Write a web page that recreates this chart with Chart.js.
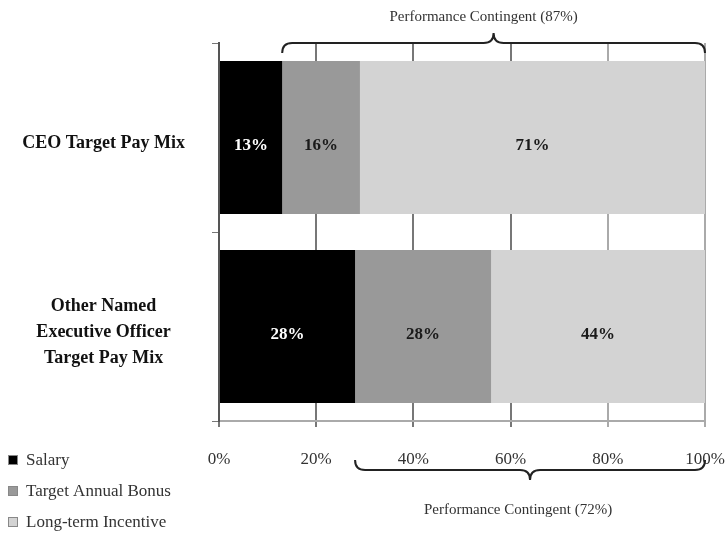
<!DOCTYPE html>
<html>
<head>
<meta charset="utf-8">
<script src="https://cdn.jsdelivr.net/npm/chart.js@4.4.1/dist/chart.umd.min.js"></script>
<style>
  body { margin: 0; background: #fff; }
  canvas { display: block; }
</style>
</head>
<body>
<canvas id="pay-mix" width="725" height="533"></canvas>
<script>
const CATEGORIES = [
  ['CEO Target Pay Mix'],
  ['Other Named', 'Executive Officer', 'Target Pay Mix']
];
const SERIES_NAMES = ['Salary', 'Target Annual Bonus', 'Long-term Incentive'];
const SALARY = [13, 28];
const ANNUAL_BONUS = [16, 28];
const LONG_TERM = [71, 44];
const X_MIN = 0;
const X_MAX = 100;
const X_STEP = 20;

const SERIF = '"Liberation Serif", "Times New Roman", serif';
const COLORS = ['#000000', '#999999', '#d3d3d3'];
const LABEL_COLORS = ['#ffffff', '#1a1a1a', '#1a1a1a'];

// curly brace along a horizontal line; dir = -1 points up, 1 points down
function drawBrace(ctx, x1, x2, y, dir) {
  const r = 10;
  const mid = (x1 + x2) / 2;
  ctx.beginPath();
  ctx.moveTo(x1, y - dir * r);
  ctx.quadraticCurveTo(x1, y, x1 + r, y);
  ctx.lineTo(mid - r, y);
  ctx.quadraticCurveTo(mid, y, mid, y + dir * r);
  ctx.quadraticCurveTo(mid, y, mid + r, y);
  ctx.lineTo(x2 - r, y);
  ctx.quadraticCurveTo(x2, y, x2, y - dir * r);
  ctx.stroke();
}

const extrasPlugin = {
  id: 'payMixExtras',
  afterDatasetsDraw(chart) {
    const ctx = chart.ctx;
    ctx.save();
    ctx.textAlign = 'center';
    ctx.textBaseline = 'middle';
    ctx.font = 'bold 17px ' + SERIF;
    chart.data.datasets.forEach((ds, i) => {
      chart.getDatasetMeta(i).data.forEach((bar, j) => {
        ctx.fillStyle = LABEL_COLORS[i];
        ctx.fillText(ds.data[j] + '%', (bar.x + bar.base) / 2, bar.y + 8);
      });
    });
    ctx.restore();
  },
  afterDraw(chart) {
    const ctx = chart.ctx;
    const x = chart.scales.x;
    const area = chart.chartArea;
    ctx.save();
    ctx.strokeStyle = '#222';
    ctx.lineWidth = 2;

    // top brace: CEO
    let x1 = x.getPixelForValue(SALARY[0]);
    let x2 = x.getPixelForValue(X_MAX);
    drawBrace(ctx, x1, x2, area.top, -1);
    ctx.fillStyle = '#333';
    ctx.font = '15px ' + SERIF;
    ctx.textAlign = 'center';
    ctx.textBaseline = 'middle';
    ctx.fillText('Performance Contingent (' + (ANNUAL_BONUS[0] + LONG_TERM[0]) + '%)', (x1 + x2) / 2 - 10, 17);

    // bottom brace: other NEOs
    x1 = x.getPixelForValue(SALARY[1]);
    drawBrace(ctx, x1, x2, area.bottom + 49, 1);
    ctx.fillText('Performance Contingent (' + (ANNUAL_BONUS[1] + LONG_TERM[1]) + '%)', (x1 + x2) / 2 - 12, 510);

    // legend, bottom left
    ctx.font = '17px ' + SERIF;
    ctx.textAlign = 'left';
    chart.data.datasets.forEach((ds, i) => {
      const y = 460 + i * 31;
      ctx.fillStyle = ds.backgroundColor;
      ctx.fillRect(8, y - 5, 10, 10);
      ctx.lineWidth = 1;
      ctx.strokeStyle = '#888';
      ctx.strokeRect(8.5, y - 4.5, 9, 9);
      ctx.fillStyle = '#333';
      ctx.fillText(ds.label, 26, y + 1);
    });
    ctx.restore();
  }
};

const datasets = [SALARY, ANNUAL_BONUS, LONG_TERM].map((values, i) => ({
  label: SERIES_NAMES[i],
  data: values,
  backgroundColor: COLORS[i],
  borderWidth: 0,
  categoryPercentage: 1,
  barPercentage: 0.81
}));

new Chart(document.getElementById('pay-mix'), {
  type: 'bar',
  data: { labels: CATEGORIES, datasets: datasets },
  options: {
    indexAxis: 'y',
    responsive: false,
    animation: false,
    layout: { padding: { top: 43, right: 20, left: 0, bottom: 0 } },
    plugins: {
      legend: { display: false },
      tooltip: { enabled: false }
    },
    scales: {
      x: {
        stacked: true,
        min: X_MIN,
        max: X_MAX,
        afterFit: (s) => {
          s.height = 112;
          s.paddingLeft = 0;
          s.paddingRight = 0;
        },
        ticks: {
          stepSize: X_STEP,
          padding: 22,
          color: '#333',
          font: { family: SERIF, size: 17 },
          callback: (v) => v + '%'
        },
        grid: {
          color: (c) => (c.index >= 4 ? '#aaaaaa' : '#777777'),
          lineWidth: 2,
          tickLength: 6
        },
        border: { color: '#aaaaaa', width: 2 }
      },
      y: {
        stacked: true,
        afterFit: (s) => {
          s.width = 219;
          s.paddingTop = 0;
          s.paddingBottom = 0;
        },
        ticks: {
          crossAlign: 'center',
          padding: 27,
          labelOffset: 6,
          color: '#111',
          font: { family: SERIF, size: 18, weight: 'bold', lineHeight: 1.45 }
        },
        grid: { drawOnChartArea: false, tickLength: 7, color: '#777' },
        border: { color: '#555', width: 2 }
      }
    }
  },
  plugins: [extrasPlugin]
});
</script>
</body>
</html>
